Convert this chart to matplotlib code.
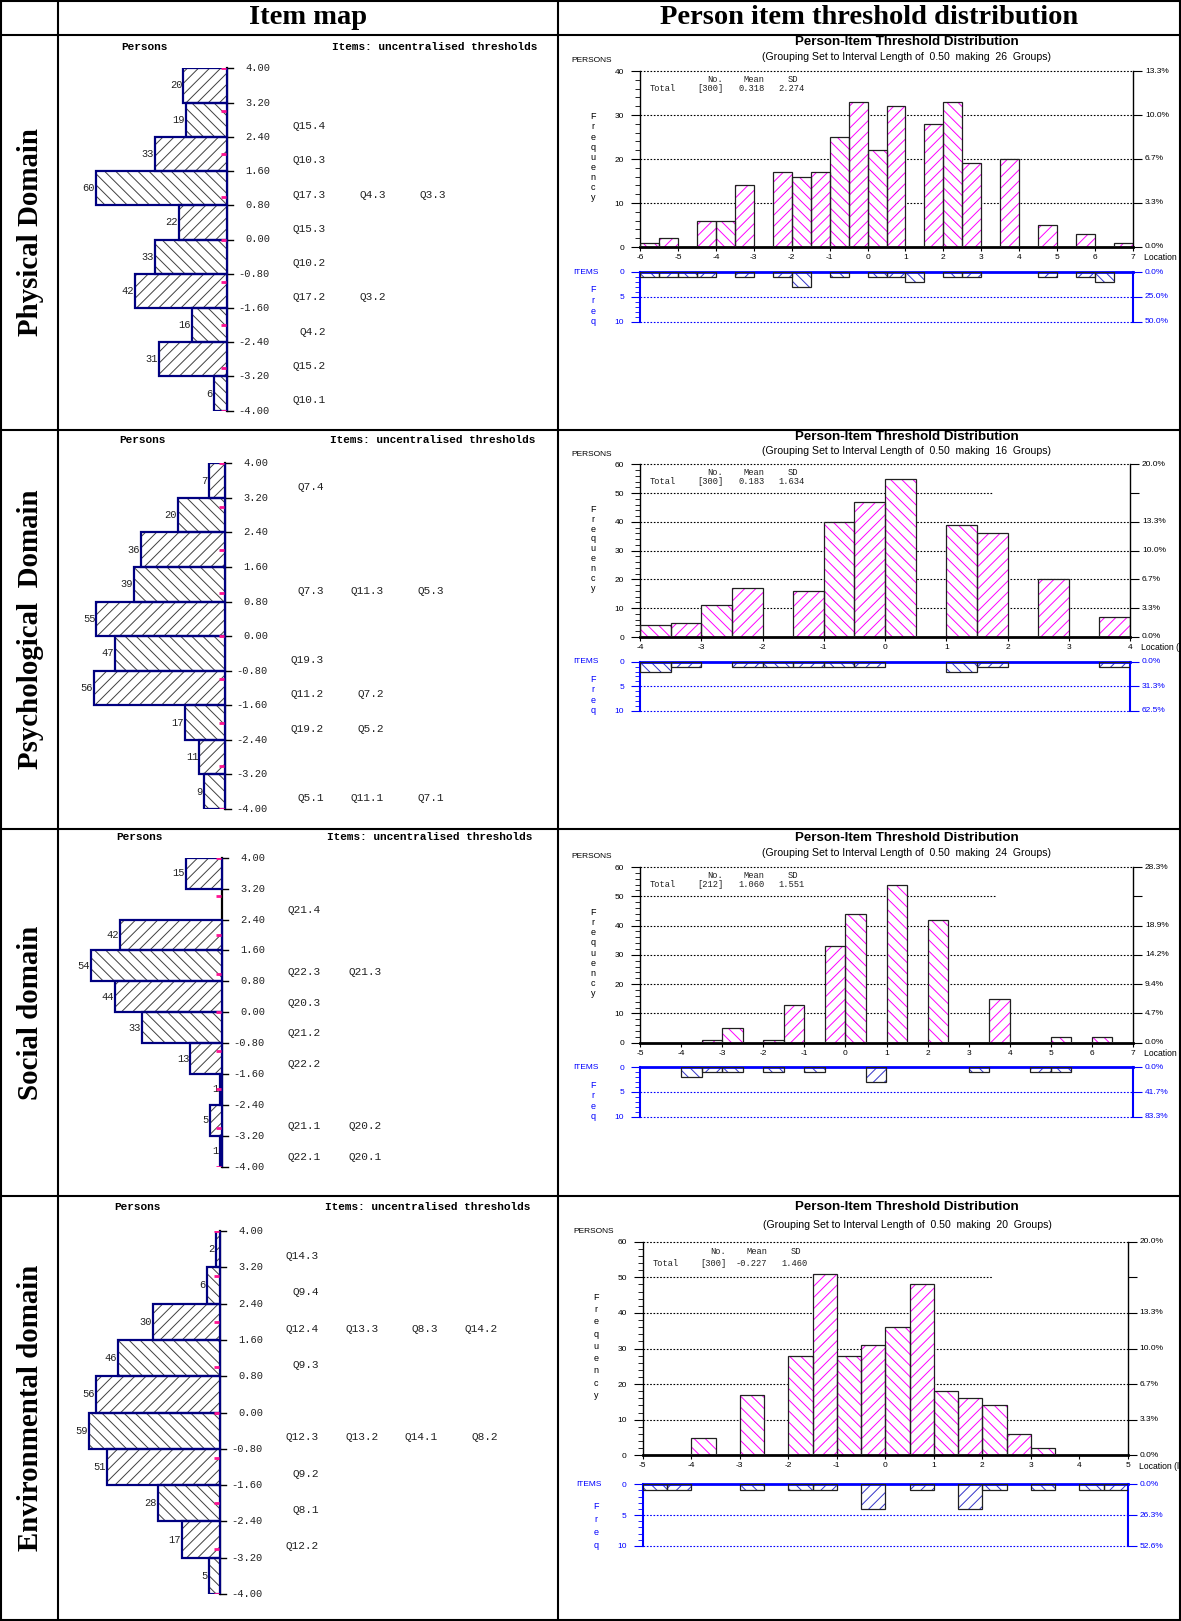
import numpy as np
import matplotlib.pyplot as plt
from matplotlib.lines import Line2D
from matplotlib.ticker import MultipleLocator
from matplotlib.transforms import Bbox, TransformedBbox

plt.rcParams['font.family'] = 'Liberation Sans'
plt.rcParams['axes.unicode_minus'] = False
plt.rcParams['hatch.linewidth'] = 0.7

MONO = 'Liberation Mono'
SERIF = 'Liberation Serif'
W, H = 1181, 1621

# ---------------- data ----------------
headers = ["Item map", "Person item threshold distribution"]
domains = ["Physical Domain", "Psychological  Domain", "Social domain", "Environmental domain"]

# item map: persons per 0.8 logit band, from 4.00 down to -4.00
map_ticks = [4.00, 3.20, 2.40, 1.60, 0.80, 0.00, -0.80, -1.60, -2.40, -3.20, -4.00]
phys_map_counts = [20, 19, 33, 60, 22, 33, 42, 16, 31, 6]
psych_map_counts = [7, 20, 36, 39, 55, 47, 56, 17, 11, 9]
social_map_counts = [15, 0, 42, 54, 44, 33, 13, 1, 5, 1]
env_map_counts = [2, 6, 30, 46, 56, 59, 51, 28, 17, 5]

# item thresholds printed on each row of the map (top row first)
phys_map_items = [[], ["Q15.4"], ["Q10.3"], ["Q17.3", "Q4.3", "Q3.3"], ["Q15.3"], ["Q10.2"],
                  ["Q17.2", "Q3.2"], ["Q4.2"], ["Q15.2"], ["Q10.1"]]
psych_map_items = [["Q7.4"], [], [], ["Q7.3", "Q11.3", "Q5.3"], [], ["Q19.3"],
                   ["Q11.2", "Q7.2"], ["Q19.2", "Q5.2"], [], ["Q5.1", "Q11.1", "Q7.1"]]
social_map_items = [[], ["Q21.4"], [], ["Q22.3", "Q21.3"], ["Q20.3"], ["Q21.2"],
                    ["Q22.2"], [], ["Q21.1", "Q20.2"], ["Q22.1", "Q20.1"]]
env_map_items = [["Q14.3"], ["Q9.4"], ["Q12.4", "Q13.3", "Q8.3", "Q14.2"], ["Q9.3"], [],
                 ["Q12.3", "Q13.2", "Q14.1", "Q8.2"], ["Q9.2"], ["Q8.1"], ["Q12.2"], []]

# person-item threshold distribution: left edge of 0.5 wide groups and counts
phys_person_x = [-6, -5.5, -4.5, -4, -3.5, -2.5, -2, -1.5, -1, -0.5, 0, 0.5, 1.5, 2, 2.5, 3.5, 4.5, 5.5, 6.5]
phys_person_n = [1, 2, 6, 6, 14, 17, 16, 17, 25, 33, 22, 32, 28, 33, 19, 20, 5, 3, 1]
phys_item_x = [-6, -5.5, -5, -4.5, -3.5, -2.5, -2, -1, 0, 0.5, 1, 2, 2.5, 4.5, 5.5, 6]
phys_item_n = [1, 1, 1, 1, 1, 1, 3, 1, 1, 1, 2, 1, 1, 1, 1, 2]

psych_person_x = [-4, -3.5, -3, -2.5, -1.5, -1, -0.5, 0, 1, 1.5, 2.5, 3.5]
psych_person_n = [4, 5, 11, 17, 16, 40, 47, 55, 39, 36, 20, 7]
psych_item_x = [-4, -3.5, -2.5, -2, -1.5, -1, -0.5, 1, 1.5, 3.5]
psych_item_n = [2, 1, 1, 1, 1, 1, 1, 2, 1, 1]

social_person_x = [-3.5, -3, -2, -1.5, -0.5, 0, 1, 2, 3.5, 5, 6]
social_person_n = [1, 5, 1, 13, 33, 44, 54, 42, 15, 2, 2]
social_item_x = [-4, -3.5, -3, -2, -1, 0.5, 3, 4.5, 5]
social_item_n = [2, 1, 1, 1, 1, 3, 1, 1, 1]

env_person_x = [-4, -3, -2, -1.5, -1, -0.5, 0, 0.5, 1, 1.5, 2, 2.5, 3]
env_person_n = [5, 17, 28, 51, 28, 31, 36, 48, 18, 16, 14, 6, 2]
env_item_x = [-5, -4.5, -3, -2, -1.5, -0.5, 0.5, 1.5, 2, 3, 4, 4.5]
env_item_n = [1, 1, 1, 1, 1, 4, 1, 4, 1, 1, 1, 1]

x_ranges = [(-6, 7), (-4, 4), (-5, 7), (-5, 5)]
y_max = [40, 60, 60, 60]
n_persons = [300, 300, 212, 300]
n_items = [20, 16, 12, 19]
stats = [("[300]", "0.318", "2.274"), ("[300]", "0.183", "1.634"),
         ("[212]", "1.060", "1.551"), ("[300]", "-0.227", "1.460")]
groups = [26, 16, 24, 20]

# ---------------- layout (pixels) ----------------
row_lines = [1, 35, 430, 829, 1196, 1620]
col_lines = [1, 58, 558, 1180]

left_axis_x = [227, 225, 222, 220]
left_top = [68.3, 463.3, 857.7, 1231]
left_bot = [410.7, 809, 1166.7, 1594]
left_head = [21.6, 23, 20.4, 24.3]
left_col_step = [60, 60, 61, 59.5]

right_x0 = [640, 640, 640, 642.8]
right_x1 = [1133, 1130, 1133, 1127.8]
right_top = [71, 464.3, 867, 1241.7]
right_bot = [247, 637, 1042.7, 1455.3]
right_itop = [272, 661.7, 1067.3, 1484.3]
right_ibot = [321.7, 711, 1116.7, 1546]
title_y = [42.3, 437, 838.3, 1207.3]
sub_y = [57, 451, 852.7, 1224.7]


def px_rect(x0, y0, x1, y1):
    return [x0 / W, 1 - y1 / H, (x1 - x0) / W, (y1 - y0) / H]


def ftext(x, y, s, **kw):
    return fig.text(x / W, 1 - y / H, s, **kw)


def pct(v, total):
    return f"{np.floor(v / total * 1000 + 0.5) / 10:.1f}%"


fig = plt.figure(figsize=(W / 100, H / 100), dpi=100)

# table grid
for y in row_lines:
    fig.add_artist(Line2D([1 / W, 1180 / W], [1 - y / H] * 2, color='black', lw=1.5, zorder=10))
for x in col_lines:
    fig.add_artist(Line2D([x / W] * 2, [1 - 1 / H, 1 - 1620 / H], color='black', lw=1.5, zorder=10))

ftext(308, 17, headers[0], family=SERIF, weight='bold', fontsize=20.5, ha='center', va='center')
ftext(869, 17, headers[1], family=SERIF, weight='bold', fontsize=20.5, ha='center', va='center')
for k, name in enumerate(domains):
    yc = (row_lines[k + 1] + row_lines[k + 2]) / 2
    ftext(31, yc, name, family=SERIF, weight='bold', fontsize=20.8, rotation=90,
          ha='center', va='center')


def draw_item_map(k, counts, item_rows):
    axis_x = left_axis_x[k]
    ax = fig.add_axes(px_rect(62, left_top[k], 556, left_bot[k]))
    ax.axis('off')
    scale = 131.0 / max(counts)  # pixels per person
    ax.set_xlim(-(axis_x - 62) / scale, (556 - axis_x) / scale)
    ax.set_ylim(-4, 4)
    edges = np.array(map_ticks)
    centers = (edges[:-1] + edges[1:]) / 2
    counts = np.array(counts)
    keep = counts > 0
    hatches = np.array(['///' if i % 2 == 0 else '\\\\\\' for i in range(len(counts))])

    fill = ax.barh(centers[keep], -counts[keep], height=0.8, color='white',
                   edgecolor='#404040', lw=0, zorder=2)
    for p, h in zip(fill.patches, hatches[keep]):
        p.set_hatch(h)
    ax.barh(centers[keep], -counts[keep], height=0.8, facecolor='none',
            edgecolor='#000080', lw=1.6, zorder=3)

    ax.plot([0, 0], [-4, 4], color='black', lw=1.6, zorder=1, clip_on=False)
    ax.hlines(np.arange(-4, 5), -6 / scale, -1 / scale, color='#ff1493', lw=2, zorder=4)

    for t in map_ticks:
        ax.plot([0, 6 / scale], [t, t], color='black', lw=1, clip_on=False)
        ax.annotate(f"{t:.2f}", xy=(0, t), xytext=(43, 0), textcoords='offset pixels',
                    ha='right', va='center', fontsize=7.5, family=MONO, color='#222222')
    for c, y in zip(counts, centers):
        if c > 0:
            ax.annotate(str(c), xy=(-c, y), xytext=(-1, 0), textcoords='offset pixels',
                        ha='right', va='center', fontsize=7.5, family=MONO, color='#222222')
    for r, row in enumerate(item_rows):
        y = map_ticks[r] - 0.55
        for j, lab in enumerate(row):
            ax.annotate(lab, xy=(0, y), xytext=(99 + left_col_step[k] * j, 0),
                        textcoords='offset pixels', ha='right', va='center',
                        fontsize=8, family=MONO, color='#222222')
    ax.annotate("Persons", xy=(0, 4), xytext=(-83, left_head[k]), textcoords='offset pixels',
                ha='center', va='center', fontsize=8, family=MONO, weight='bold')
    ax.annotate("Items: uncentralised thresholds", xy=(0, 4), xytext=(105, left_head[k]),
                textcoords='offset pixels', ha='left', va='center', fontsize=8,
                family=MONO, weight='bold')


def hatch_bars(ax, xs, ns, color):
    fill = ax.bar(xs, ns, width=0.5, align='edge', color='white', edgecolor=color, lw=0, zorder=2)
    for p, x in zip(fill.patches, xs):
        p.set_hatch('\\\\\\' if float(x).is_integer() else '///')
    ax.bar(xs, ns, width=0.5, align='edge', facecolor='none', edgecolor='#202020', lw=0.9, zorder=3)


def draw_distribution(k, p_x, p_n, i_x, i_n):
    x0, x1 = right_x0[k], right_x1[k]
    top, bot = right_top[k], right_bot[k]
    itop, ibot = right_itop[k], right_ibot[k]
    xmin, xmax = x_ranges[k]
    ymax = y_max[k]
    h = bot - top
    hi = ibot - itop

    ftext(907, title_y[k], "Person-Item Threshold Distribution", fontsize=9.6, weight='bold',
          ha='center', va='center')
    ftext(907, sub_y[k], f"(Grouping Set to Interval Length of  0.50  making  {groups[k]}  Groups)",
          fontsize=7.6, ha='center', va='center')
    ftext(x0 - 69, top - 10, "PERSONS", fontsize=6, ha='left', va='center')
    for i, ch in enumerate("Frequency"):
        ftext(x0 - 47, top + h * (0.26 + 0.46 * i / 8), ch, fontsize=6.5, ha='center', va='center')

    # persons histogram
    ax = fig.add_axes(px_rect(x0, top, x1, bot))
    ax.set_xlim(xmin, xmax)
    ax.set_ylim(0, ymax)
    hatch_bars(ax, p_x, p_n, '#ff00ff')
    yt = np.arange(0, ymax + 1, 10)
    for v in yt:
        if v > 0:
            end = xmin + 0.72 * (xmax - xmin) if v == 50 else xmax
            ax.plot([xmin, end], [v, v], ls=(0, (1.5, 1.5)), color='black', lw=0.8,
                    zorder=1, clip_on=False)
        if v != 50:
            ax.annotate(pct(v, n_persons[k]), xy=(xmax, v), xytext=(12, 0),
                        textcoords='offset pixels', ha='left', va='center', fontsize=6,
                        annotation_clip=False)
    ax.spines['top'].set_visible(False)
    ax.spines['left'].set_linewidth(1.0)
    ax.spines['right'].set_linewidth(1.0)
    ax.spines['bottom'].set_linewidth(2.0)
    ax.set_yticks(yt)
    ax.yaxis.set_minor_locator(MultipleLocator(2))
    ax.tick_params(axis='y', which='major', length=6.5, width=0.8, pad=5, labelsize=6, right=True)
    ax.tick_params(axis='y', which='minor', length=3.5, width=0.6, right=False)
    ax.set_xticks(np.arange(xmin, xmax + 1))
    ax.tick_params(axis='x', length=3, width=0.8, pad=2, labelsize=6)
    loc = ax.annotate("Location (logits)", xy=(xmax, 0), xytext=(11, -11),
                      textcoords='offset pixels', ha='left', va='center', fontsize=6.2,
                      annotation_clip=False)
    loc.set_clip_box(TransformedBbox(Bbox.from_extents(0, 0, 1179 / W, 1), fig.transFigure))
    loc.set_clip_on(True)

    # summary statistics
    r1, r2 = top + 0.046 * h, top + 0.102 * h
    mono = dict(family=MONO, fontsize=6.3, va='center', color='#222222')
    ftext(x0 + 83.5, r1, "No.", ha='right', **mono)
    ftext(x0 + 124.6, r1, "Mean", ha='right', **mono)
    ftext(x0 + 158.5, r1, "SD", ha='right', **mono)
    ftext(x0 + 10, r2, "Total", ha='left', **mono)
    ftext(x0 + 83.5, r2, stats[k][0], ha='right', **mono)
    ftext(x0 + 124.6, r2, stats[k][1], ha='right', **mono)
    ftext(x0 + 164.5, r2, stats[k][2], ha='right', **mono)

    # items histogram (hanging down)
    axi = fig.add_axes(px_rect(x0, itop, x1, ibot))
    axi.set_xlim(xmin, xmax)
    axi.set_ylim(10, 0)
    hatch_bars(axi, i_x, i_n, '#3434c8')
    for v in (0, 5, 10):
        if v > 0:
            axi.plot([xmin, xmax], [v, v], ls=(0, (1.5, 1.5)), color='blue', lw=0.8,
                     zorder=1, clip_on=False)
        axi.annotate(pct(v, n_items[k]), xy=(xmax, v), xytext=(12, 0),
                     textcoords='offset pixels', ha='left', va='center', fontsize=6,
                     color='blue', annotation_clip=False)
    axi.spines['bottom'].set_visible(False)
    axi.spines['top'].set_color('blue')
    axi.spines['top'].set_linewidth(2.0)
    for s in ('left', 'right'):
        axi.spines[s].set_color('blue')
        axi.spines[s].set_linewidth(1.5)
    axi.set_xticks([])
    axi.set_yticks([0, 5, 10])
    axi.yaxis.set_minor_locator(MultipleLocator(1))
    axi.tick_params(axis='y', which='major', colors='blue', length=6.5, width=0.8, pad=5,
                    labelsize=6, right=True)
    axi.tick_params(axis='y', which='minor', colors='blue', length=3.5, width=0.6, right=False)
    ftext(x0 - 41, itop, "ITEMS", fontsize=6, color='blue', ha='right', va='center')
    for i, ch in enumerate("Freq"):
        ftext(x0 - 47, itop + hi * (0.36 + 0.64 * i / 3), ch, fontsize=6.5, color='blue',
              ha='center', va='center')


draw_item_map(0, phys_map_counts, phys_map_items)
draw_item_map(1, psych_map_counts, psych_map_items)
draw_item_map(2, social_map_counts, social_map_items)
draw_item_map(3, env_map_counts, env_map_items)

draw_distribution(0, phys_person_x, phys_person_n, phys_item_x, phys_item_n)
draw_distribution(1, psych_person_x, psych_person_n, psych_item_x, psych_item_n)
draw_distribution(2, social_person_x, social_person_n, social_item_x, social_item_n)
draw_distribution(3, env_person_x, env_person_n, env_item_x, env_item_n)

fig.savefig("out.png", dpi=100)
